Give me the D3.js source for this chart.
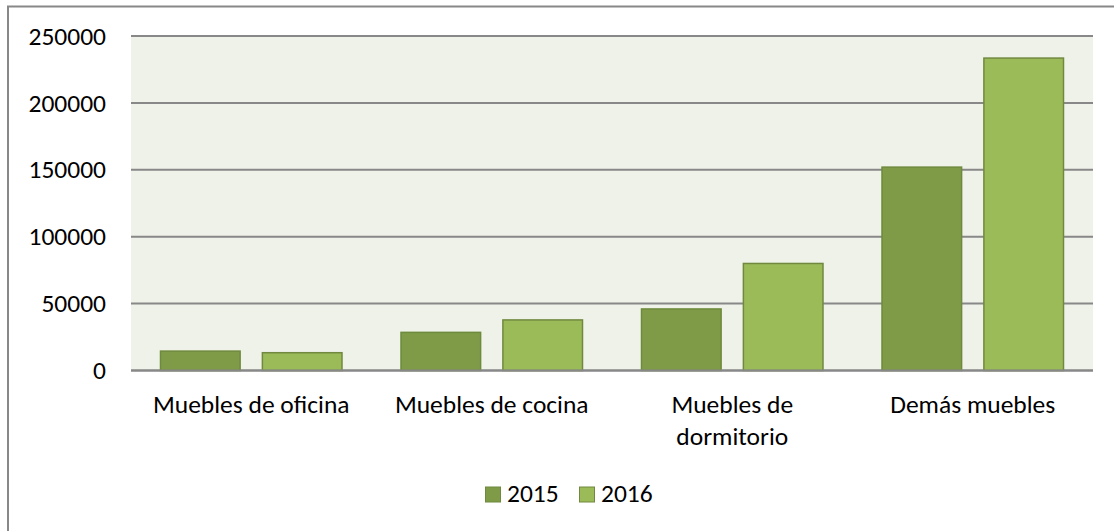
<!DOCTYPE html>
<html><head><meta charset="utf-8">
<script src="https://cdn.jsdelivr.net/npm/d3@7"></script>
<style>body{margin:0;background:#fff}svg{display:block}text{font-family:Carlito,Lato,"Open Sans",sans-serif;fill:#000}</style>
</head><body><svg id="c" width="1114" height="531"></svg>
<script>
const categories = ["Muebles de oficina","Muebles de cocina","Muebles de\ndormitorio","Demás muebles"];
const seriesNames = ["2015","2016"];
const values2015 = [14500, 28500, 46000, 152000];
const values2016 = [13300, 37800, 80000, 233500];
const yTicks = [0,50000,100000,150000,200000,250000];
const colors = {"2015":"#7F9B48","2016":"#9BBB59"};
const strokes = {"2015":"#6E8A3C","2016":"#71893F"};

const svg = d3.select("#c");
const L=131, R=1093, T=36, B=370.5;
const FS = 25.5;
svg.append("rect").attr("x",8).attr("y",6.5).attr("width",1120).attr("height",540)
  .attr("fill","#fff").attr("stroke","#888").attr("stroke-width",2);
svg.append("rect").attr("x",L).attr("y",T).attr("width",R-L).attr("height",B-T).attr("fill","#EFF2E9");

const y = d3.scaleLinear().domain([0,250000]).range([B,T]);
const x = d3.scaleBand().domain(categories).range([L,R]).paddingInner(0).paddingOuter(0);
const xs = d3.scaleBand().domain(seriesNames).range([29, x.bandwidth()-29]).paddingInner(19/182*2).paddingOuter(0);

const gy = svg.append("g");
gy.selectAll("line").data(yTicks).join("line")
  .attr("x1",L).attr("x2",R).attr("y1",d=>y(d)).attr("y2",d=>y(d))
  .attr("stroke","#888").attr("stroke-width",2);
const yAxis = d3.axisLeft(y).tickValues(yTicks).tickSize(0).tickPadding(25).tickFormat(d3.format("d"));
const ya = svg.append("g").attr("transform",`translate(${L},0)`).call(yAxis);
ya.select(".domain").remove();
ya.selectAll("text").attr("font-size",FS).attr("font-family","Carlito,Lato,sans-serif").attr("fill","#000");

const data = categories.map((c,i)=>({c, v:{"2015":values2015[i],"2016":values2016[i]}}));
const g = svg.append("g").selectAll("g").data(data).join("g").attr("transform",d=>`translate(${x(d.c)},0)`);
g.selectAll("rect").data(d=>seriesNames.map(s=>({s,v:d.v[s]}))).join("rect")
  .attr("x",d=>xs(d.s)+0.5).attr("width",xs.bandwidth()-1)
  .attr("y",d=>y(d.v)).attr("height",d=>B-y(d.v))
  .attr("fill",d=>colors[d.s]).attr("stroke",d=>strokes[d.s]).attr("stroke-width",1.5);

svg.append("line").attr("x1",L).attr("x2",R).attr("y1",B).attr("y2",B).attr("stroke","#888").attr("stroke-width",2);

const cl = svg.append("g");
categories.forEach(c=>{
  const lines = c.split("\n");
  const t = cl.append("text").attr("text-anchor","middle").attr("font-size",FS)
    .attr("x",x(c)+x.bandwidth()/2).attr("y",413);
  lines.forEach((ln,i)=>t.append("tspan").attr("x",x(c)+x.bandwidth()/2).attr("dy",i?32:0).text(ln));
});

const lg = svg.append("g");
const lx = [485,579];
seriesNames.forEach((s,i)=>{
  lg.append("rect").attr("x",lx[i]+0.5).attr("y",487).attr("width",15).attr("height",15)
    .attr("fill",colors[s]).attr("stroke",strokes[s]).attr("stroke-width",1);
  lg.append("text").attr("x",lx[i]+22).attr("y",502).attr("font-size",FS).text(s);
});
</script></body></html>
